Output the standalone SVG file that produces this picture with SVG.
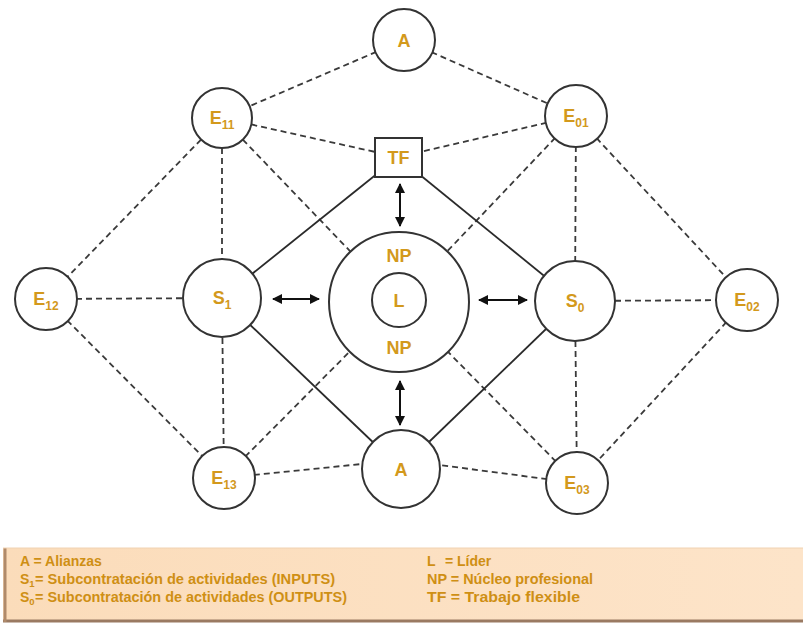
<svg xmlns="http://www.w3.org/2000/svg" width="803" height="625" viewBox="0 0 803 625">
<style>
.n{fill:#fff;stroke:#333;stroke-width:2}
.d{stroke:#3a3a3a;stroke-width:1.8;stroke-dasharray:6 4;fill:none}
.s{stroke:#2a2a2a;stroke-width:1.8;fill:none}
.ar{stroke:#111;stroke-width:2;fill:none;marker-start:url(#ah);marker-end:url(#ah)}
.t{font-family:"Liberation Sans",Arial,sans-serif;font-weight:bold;font-size:18px;fill:#d3991c;text-anchor:middle}
.sub{font-size:12px}
.lg{font-family:"Liberation Sans",Arial,sans-serif;font-weight:bold;font-size:14px;fill:#cf8f14}
.lsub{font-size:9.5px}
</style>
<defs>
<marker id="ah" viewBox="0 0 10 10" refX="9" refY="5" markerWidth="5" markerHeight="5" orient="auto-start-reverse" markerUnits="strokeWidth">
<path d="M0,0 L10,5 L0,10 Z" fill="#111"/>
</marker>
<linearGradient id="lgb" x1="0" y1="0" x2="1" y2="0">
<stop offset="0" stop-color="#fbdcba"/>
<stop offset="1" stop-color="#fde4c9"/>
</linearGradient>
</defs>
<rect width="803" height="625" fill="#fff"/>
<g id="connectors">
<line class="d" x1="404" y1="40" x2="222" y2="118"/>
<line class="d" x1="404" y1="40" x2="576" y2="116"/>
<line class="d" x1="222" y1="118" x2="398" y2="157"/>
<line class="d" x1="576" y1="116" x2="398" y2="157"/>
<line class="d" x1="222" y1="118" x2="46" y2="299"/>
<line class="d" x1="576" y1="116" x2="747" y2="300"/>
<line class="d" x1="222" y1="118" x2="222" y2="298"/>
<line class="d" x1="576" y1="116" x2="575" y2="301"/>
<line class="d" x1="222" y1="118" x2="399" y2="302"/>
<line class="d" x1="576" y1="116" x2="399" y2="302"/>
<line class="d" x1="46" y1="299" x2="222" y2="298"/>
<line class="d" x1="575" y1="301" x2="747" y2="300"/>
<line class="d" x1="46" y1="299" x2="224" y2="478"/>
<line class="d" x1="747" y1="300" x2="577" y2="483"/>
<line class="d" x1="222" y1="298" x2="224" y2="478"/>
<line class="d" x1="575" y1="301" x2="577" y2="483"/>
<line class="d" x1="224" y1="478" x2="399" y2="302"/>
<line class="d" x1="577" y1="483" x2="399" y2="302"/>
<line class="d" x1="224" y1="478" x2="401" y2="460"/>
<line class="d" x1="577" y1="483" x2="401" y2="460"/>
<line class="s" x1="398" y1="157" x2="222" y2="298"/>
<line class="s" x1="398" y1="157" x2="575" y2="301"/>
<line class="s" x1="222" y1="298" x2="401" y2="469"/>
<line class="s" x1="575" y1="301" x2="401" y2="469"/>
<line class="ar" x1="273" y1="299" x2="319" y2="299"/>
<line class="ar" x1="479" y1="300" x2="527" y2="300"/>
<line class="ar" x1="400" y1="184" x2="400" y2="226"/>
<line class="ar" x1="400" y1="381" x2="400" y2="425"/>
</g>
<g id="A_top"><circle class="n" cx="404" cy="40" r="31"/><text class="t" x="404" y="47">A</text></g>
<g id="E11"><circle class="n" cx="222" cy="118" r="30"/><text class="t" x="222" y="124">E<tspan class="sub" dy="5">11</tspan></text></g>
<g id="E01"><circle class="n" cx="576" cy="116" r="31"/><text class="t" x="576" y="122">E<tspan class="sub" dy="5">01</tspan></text></g>
<g id="TF"><rect class="n" x="375" y="138" width="47" height="39"/><text class="t" x="398.5" y="164">TF</text></g>
<g id="E12"><circle class="n" cx="46" cy="299" r="31"/><text class="t" x="46" y="305">E<tspan class="sub" dy="5">12</tspan></text></g>
<g id="S1"><circle class="n" cx="222" cy="298" r="39"/><text class="t" x="222" y="304">S<tspan class="sub" dy="5">1</tspan></text></g>
<g id="NP"><circle class="n" cx="399" cy="302" r="70"/><text class="t" x="399" y="262">NP</text><text class="t" x="399" y="354">NP</text></g>
<g id="L"><circle class="n" cx="399" cy="300" r="27"/><text class="t" x="399" y="307">L</text></g>
<g id="S0"><circle class="n" cx="575" cy="301" r="40"/><text class="t" x="575" y="307">S<tspan class="sub" dy="5">0</tspan></text></g>
<g id="E02"><circle class="n" cx="747" cy="300" r="31"/><text class="t" x="747" y="306">E<tspan class="sub" dy="5">02</tspan></text></g>
<g id="E13"><circle class="n" cx="224" cy="478" r="31"/><text class="t" x="224" y="484">E<tspan class="sub" dy="5">13</tspan></text></g>
<g id="A_bot"><circle class="n" cx="401" cy="469" r="39"/><text class="t" x="401" y="476">A</text></g>
<g id="E03"><circle class="n" cx="577" cy="483" r="31"/><text class="t" x="577" y="489">E<tspan class="sub" dy="5">03</tspan></text></g>
<g id="legend">
<rect x="3" y="548" width="800" height="74" fill="url(#lgb)"/>
<line x1="3" y1="621" x2="803" y2="621" stroke="#9a7a62" stroke-width="3"/>
<line x1="5" y1="548" x2="5" y2="622" stroke="#b08a6a" stroke-width="3"/>
<line x1="3" y1="548" x2="803" y2="548" stroke="#f0d2b2" stroke-width="1"/>
<text class="lg" x="20" y="566">A = Alianzas</text>
<text class="lg" x="20" y="584">S<tspan class="lsub" dy="3">1</tspan></text>
<text class="lg" x="35" y="584" textLength="300" lengthAdjust="spacingAndGlyphs">= Subcontratación de actividades (INPUTS)</text>
<text class="lg" x="20" y="602">S<tspan class="lsub" dy="3">0</tspan></text>
<text class="lg" x="35" y="602" textLength="312" lengthAdjust="spacingAndGlyphs">= Subcontratación de actividades (OUTPUTS)</text>
<text class="lg" x="427" y="566">L</text>
<text class="lg" x="445" y="566">= Líder</text>
<text class="lg" x="427" y="584" textLength="166" lengthAdjust="spacingAndGlyphs">NP = Núcleo profesional</text>
<text class="lg" x="427" y="602" textLength="153" lengthAdjust="spacingAndGlyphs">TF = Trabajo flexible</text>
</g>
</svg>
